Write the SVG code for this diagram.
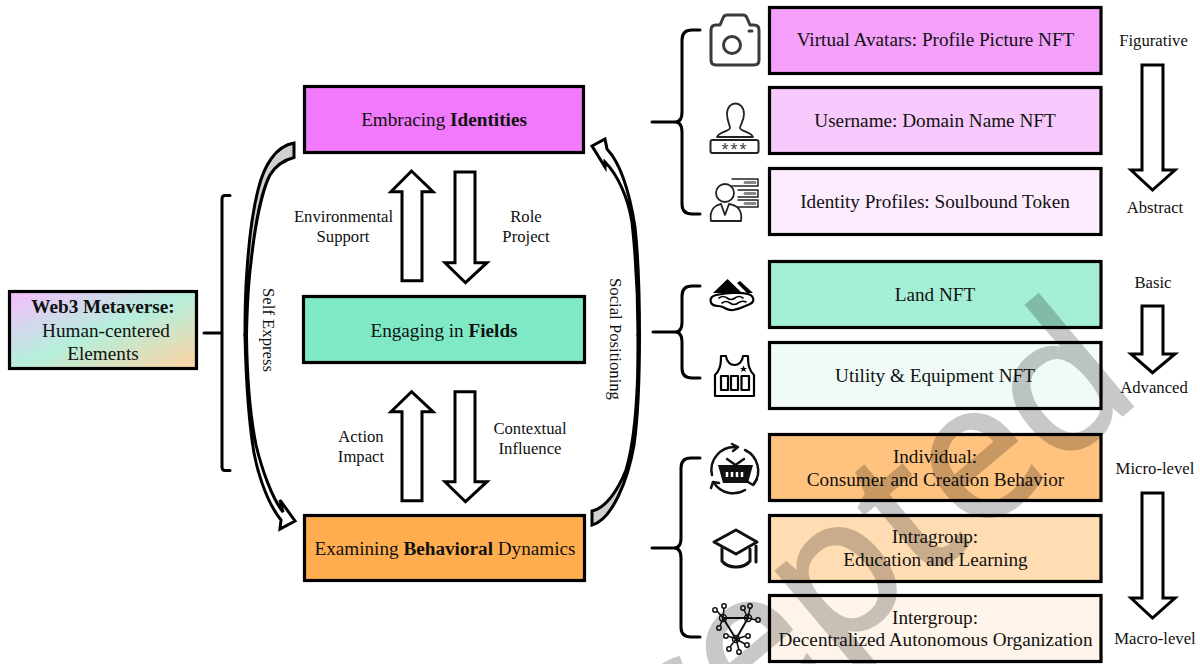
<svg xmlns="http://www.w3.org/2000/svg" width="1200" height="664" viewBox="0 0 1200 664">
<style>
text{font-family:"Liberation Serif","Times New Roman",serif;fill:#111;text-anchor:middle}
.b{font-size:19.200px}
.l{font-size:16.700px}
.box{stroke:#000;stroke-width:3.2}
.blk{fill:#fff;stroke:#000;stroke-width:3;stroke-linejoin:miter}
.br{fill:none;stroke:#000;stroke-width:3;stroke-linecap:round;stroke-linejoin:round}
.cur{stroke:#000;stroke-width:3;stroke-linejoin:miter}
.ic{fill:none;stroke:#222;stroke-width:2.2;stroke-linecap:round;stroke-linejoin:round}
.wm{font-family:"Open Sans","Liberation Sans",Arial,sans-serif;font-size:192px;fill:#000;stroke:#000;stroke-width:3;opacity:.21;text-anchor:end}
</style>
<defs>
<linearGradient id="g" x1="0" y1="0" x2="1" y2="1">
<stop offset="0" stop-color="#f7bcff"/><stop offset=".5" stop-color="#b5efdc"/><stop offset="1" stop-color="#ffd2a0"/>
</linearGradient>
</defs>
<rect width="1200" height="664" fill="#fff"/>

<g id="connectors">
<path class="br" d="M230,195.500H225Q222,195.500 222,199V467Q222,470.500 225,470.500H230M204,333H222"/>
<path class="br" d="M700,30H692Q682,30 682,40V112Q682,122 675,122H652M675,122Q682,122 682,132V204Q682,214 692,214H700"/>
<path class="br" d="M700,286H692Q682,286 682,296V322Q682,332 675,332H653M675,332Q682,332 682,342V368Q682,378 692,378H700"/>
<path class="br" d="M700,458H691Q681,458 681,468V538Q681,548 674,548H652M674,548Q681,548 681,558V627Q681,637 691,637H700"/>
<path class="cur" fill="#d0d0d0" d="M294,143C276,146 264,165 258,190C253,210 249,240 247,270C245,295 245,320 245,335L246.500,335C247,310 248,285 251,262C255,225 262,190 270,175C276,165 284,160 294,157.500Z"/>
<path class="cur" fill="#fff" d="M245,335C246,380 248,410 252,440C255,465 265,500 281,520L280,529L295,521L280,500L283,512C272,498 262,470 256,445C251,420 247,380 246.500,335Z"/>
<path class="cur" fill="#d0d0d0" d="M592,511C606,508 618,490 626,470C632,450 636,420 637.500,380C638,360 638,345 638,335L639.500,335C639.500,370 639,410 634,445C628,480 612,520 592,525Z"/>
<path class="cur" fill="#fff" d="M638,335C638,290 635,250 632,222C628,198 618,175 605,162L605,167L592,146L605,139L607,149C622,165 630,195 635,227C638,255 639.500,295 639.500,335Z"/>
<path class="blk" d="M411.500,171L433,191.700H422V280.700H402V191.700H391Z"/>
<path class="blk" d="M455,172H475V262.700H487L465.500,282.700L445,262.700H455Z"/>
<path class="blk" d="M411.500,391.700L433,411.700H422V500.700H402V411.700H391Z"/>
<path class="blk" d="M455,391.700H475V481.700H487L465.500,501.700L445,481.700H455Z"/>
<path class="blk" d="M1142,65H1163V170H1175L1152.500,190L1131,170H1142Z"/>
<path class="blk" d="M1142,306H1163V354H1175L1152.500,372.700L1131,354H1142Z"/>
<path class="blk" d="M1142,493H1163V598H1175L1152.500,618L1131,598H1142Z"/>
</g>

<g id="node-web3"><rect class="box" x="9.500" y="291.500" width="187" height="77" fill="url(#g)"/>
<text class="b" x="103" y="313" font-weight="700">Web3 Metaverse:</text>
<text class="b" x="106" y="337">Human-centered</text><text class="b" x="103" y="360">Elements</text></g>

<g id="node-identities"><rect class="box" x="304.500" y="86.500" width="279" height="66" fill="#f279fb"/>
<text class="b" x="444" y="126">Embracing <tspan font-weight="700">Identities</tspan></text></g>
<g id="node-fields"><rect class="box" x="303.500" y="296.500" width="281" height="66" fill="#7fe9c5"/>
<text class="b" x="444" y="337">Engaging in <tspan font-weight="700">Fields</tspan></text></g>
<g id="node-behavioral"><rect class="box" x="304.500" y="515.500" width="280" height="65" fill="#ffad4f"/>
<text class="b" x="445" y="555">Examining <tspan font-weight="700">Behavioral</tspan> Dynamics</text></g>

<g id="node-avatars"><rect class="box" x="769.500" y="7.500" width="331.500" height="66" fill="#f5a0fb"/><text class="b" x="935.500" y="46">Virtual Avatars: Profile Picture NFT</text></g>
<g id="node-username"><rect class="box" x="769.500" y="87.500" width="331.500" height="66" fill="#f8c9fc"/><text class="b" x="935" y="127">Username: Domain Name NFT</text></g>
<g id="node-profiles"><rect class="box" x="769.500" y="168.500" width="331.500" height="66" fill="#fcecfe"/><text class="b" x="935" y="208">Identity Profiles: Soulbound Token</text></g>
<g id="node-land"><rect class="box" x="769.500" y="261.500" width="331.500" height="66" fill="#a5efd6"/><text class="b" x="935" y="301">Land NFT</text></g>
<g id="node-utility"><rect class="box" x="769.500" y="342.500" width="331.500" height="66" fill="#f0faf6"/><text class="b" x="935" y="382">Utility &amp; Equipment NFT</text></g>
<g id="node-individual"><rect class="box" x="769.500" y="434.500" width="331.500" height="66" fill="#ffc27f"/><text class="b" x="935" y="463">Individual:</text><text class="b" x="935.500" y="486">Consumer and Creation Behavior</text></g>
<g id="node-intragroup"><rect class="box" x="769.500" y="515.500" width="331.500" height="66" fill="#ffdcb2"/><text class="b" x="935" y="543">Intragroup:</text><text class="b" x="935.500" y="566">Education and Learning</text></g>
<g id="node-intergroup"><rect class="box" x="769.500" y="595.500" width="331.500" height="66" fill="#fff4ea"/><text class="b" x="935" y="624">Intergroup:</text><text class="b" x="935.500" y="646">Decentralized Autonomous Organization</text></g>

<g id="labels">
<text class="l" x="343.500" y="222">Environmental</text><text class="l" x="343" y="242">Support</text>
<text class="l" x="526" y="222">Role</text><text class="l" x="526" y="242">Project</text>
<text class="l" x="361" y="442">Action</text><text class="l" x="361" y="462">Impact</text>
<text class="l" x="530" y="434">Contextual</text><text class="l" x="530" y="454">Influence</text>
<text class="l" transform="translate(263,330) rotate(90)">Self Express</text>
<text class="l" transform="translate(610,339) rotate(90)">Social Positioning</text>
<text class="l" x="1153.500" y="46">Figurative</text><text class="l" x="1155" y="213">Abstract</text>
<text class="l" x="1153" y="288">Basic</text><text class="l" x="1154" y="393">Advanced</text>
<text class="l" x="1155" y="474">Micro-level</text><text class="l" x="1155" y="644">Macro-level</text>
</g>

<g id="icon-camera" class="ic" style="stroke-width:3;stroke:#3a3a3a">
<path d="M716,25H720L723,18Q724,15 727,15H743Q746,15 747,18L750,25H754Q759,25 759,30V60Q759,65 754,65H716Q711,65 711,60V30Q711,25 716,25Z"/>
<circle cx="732" cy="45" r="8.500"/><path d="M749,31H752"/>
</g>
<g id="icon-user" class="ic" style="stroke-width:1.800">
<path d="M727,114C727,100 744,100 744,114C744,121 740,125 740,128C740,131 751,132 753,137H717C719,132 730,131 730,128C730,125 727,121 727,114Z"/>
<rect x="710.500" y="140" width="48" height="13" rx="2" stroke-width="2"/>
<text x="735" y="156" style="font-size:18px;letter-spacing:2px;stroke:none;fill:#444;font-family:'Liberation Sans',sans-serif">***</text>
</g>
<g id="icon-profile" class="ic" style="stroke-width:1.800">
<circle cx="725" cy="193" r="9"/>
<path d="M711,221C709,209 716,205 721,204L725,215L729,204C736,205 743,209 741,221Z"/>
<path d="M732,179H758V186H732M738,190H758V197H738M738,200H758V207H738" stroke-width="1.500"/>
<path d="M745,182.500H755M745,193.500H755M745,203.500H755" stroke="#888" stroke-width="3"/>
</g>
<g id="icon-land">
<path d="M713,293L727.500,279L742,293Z" fill="#000"/>
<path d="M737,283L740,281L753,293H747Z" fill="#000"/>
<path class="ic" style="stroke:#000;stroke-width:2.200" d="M716,295C708,297 709,306 718,306C725,306 726,311 733,310C741,309 745,306 750,304C756,301 753,295 748,294C740,292 725,293 716,295Z"/>
<path class="ic" style="stroke:#000;stroke-width:1.600" d="M719,298Q723,295 727,298T735,298T743,298M722,303Q726,300 730,303T738,303T746,302"/>
</g>
<g id="icon-vest" class="ic" style="stroke:#000;stroke-width:2.200">
<path d="M721,356H726C727,368 742,368 743,356H748C748,365 749,370 754,375V396H715V375C720,370 721,365 721,356Z"/>
<path d="M721,376H728V390H721ZM731,376H738V390H731ZM741.500,376H749V390H741.500Z"/>
<path d="M743.500,365.500L744.500,368H747L745,369.500L746,372L743.500,370.500L741,372L742,369.500L740,368H742.500Z" fill="#000" stroke="none"/>
</g>
<g id="icon-basket">
<path d="M718,465H753L748,483H723Z" fill="#111"/>
<path class="ic" style="stroke:#111;stroke-width:2.500" d="M727,459L737,466M744,459L734,466"/>
<path d="M727,472v5M732,472v5M737,472v5M742,472v5" stroke="#fff" stroke-width="2.500"/>
<g class="ic" style="stroke:#111;stroke-width:2.500">
<path d="M712,475A23,23 0 0 1 736,447"/><path d="M732,444L738,447L733,451"/>
<path d="M745,450A23,23 0 0 1 754,484"/><path d="M757,479L753,485L748,482"/>
<path d="M745,490A23,23 0 0 1 714,483"/><path d="M711,488L713,482L719,483"/>
</g>
</g>
<g id="icon-cap" class="ic" style="stroke:#111;stroke-width:3">
<path d="M714,542L736,530L757,542L736,554Z"/>
<path d="M722,548V561C728,569 744,569 750,561V549"/>
<path d="M756,546V562"/>
</g>
<g id="icon-network" class="ic" style="stroke:#111;stroke-width:1.500">
<path d="M723,618H748L736,639Z" stroke-width="2"/>
<circle cx="723" cy="618" r="3.500"/><circle cx="748" cy="618" r="3.500"/><circle cx="736" cy="639" r="3.500"/>
<path d="M723,618L717,611M723,618L724,608M723,618L720,626M748,618L750,608M748,618L756,620M748,618L744,610M736,639L728,636M736,639L746,636M736,639L730,647M736,639L739,650M736,639L745,644"/>
<g fill="#fff"><circle cx="715" cy="610" r="2.200"/><circle cx="724" cy="606" r="2.200"/><circle cx="719" cy="628" r="2.200"/><circle cx="750" cy="606" r="2.200"/><circle cx="758" cy="620" r="2.200"/><circle cx="743" cy="608" r="2.200"/><circle cx="726" cy="636" r="2.200"/><circle cx="748" cy="636" r="2.200"/><circle cx="729" cy="649" r="2.200"/><circle cx="739" cy="652" r="2.200"/><circle cx="747" cy="645" r="2.200"/></g>
</g>

<text class="wm" transform="translate(1145,396) rotate(-40)">Accepted</text>
</svg>
